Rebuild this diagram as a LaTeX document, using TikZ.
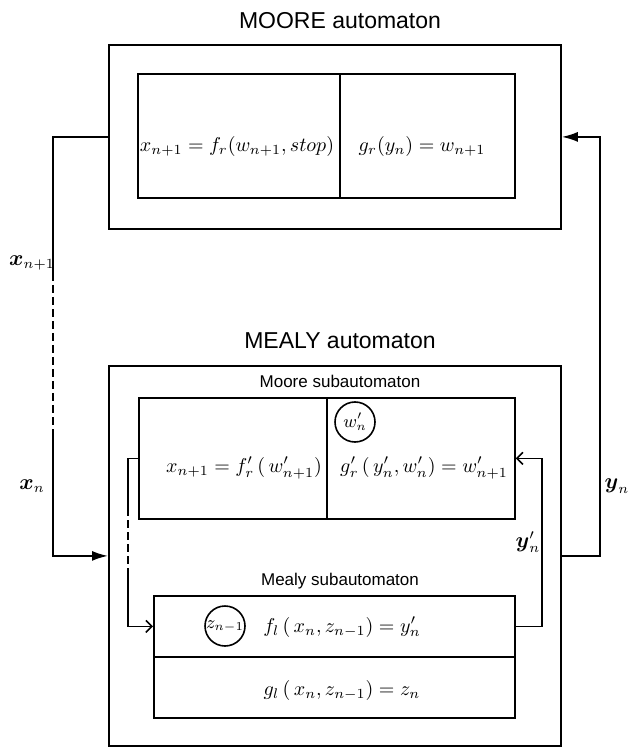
\documentclass[tikz,border=0pt]{standalone}
\usepackage{amsmath}
\usepackage{fontspec}
\setmainfont{Liberation Sans}
\usetikzlibrary{arrows.meta}
\tikzset{
  box/.style={draw, line width=0.9pt, inner sep=0pt, anchor=north west},
  ttl/.style={font=\fontsize{11.5}{13}\selectfont, inner sep=0pt},
  subttl/.style={font=\fontsize{8.5}{10}\selectfont, inner sep=0pt},
  frm/.style={font=\fontsize{10}{12}\selectfont, inner sep=0pt},
  lbl/.style={font=\fontsize{10.5}{12}\selectfont, inner sep=0pt},
  circ/.style={draw, circle, minimum size=20pt, inner sep=0pt, line width=0.8pt, font=\fontsize{9}{11}\selectfont},
  conn/.style={line width=0.9pt},
  thinconn/.style={line width=0.8pt},
  dsh/.style={dash pattern=on 4pt off 2pt},
  bigtip/.style={-{Latex[length=8pt,width=5pt]}},
  smalltip/.style={-{Straight Barb[length=3pt,width=6pt]}}
}
\begin{document}
\begin{tikzpicture}[x=0.5pt,y=-0.5pt]
\useasboundingbox (0,0) rectangle (635,747);

% MOORE automaton
\node[ttl] (t1) at (340,21) {MOORE automaton};
\node[box, minimum width=226pt, minimum height=92pt] (mooreOut) at (108,44) {};
\node[box, minimum width=101pt, minimum height=62pt] (mooreL) at (137,73) {};
\node[box, minimum width=87.5pt, minimum height=62pt] (mooreR) at (339,73) {};
\node[frm] (f1) at (237,147) {$x_{n+1}=f_r(w_{n+1},stop)$};
\node[frm] (f2) at (422,147) {$g_r(y_n)=w_{n+1}$};

% MEALY automaton
\node[ttl] (t2) at (340,341) {MEALY automaton};
\node[box, minimum width=226pt, minimum height=190pt] (mealyOut) at (108,365) {};
\node[subttl] (s1) at (340,381) {Moore subautomaton};
\node[box, minimum width=94pt, minimum height=60.5pt] (msL) at (138,397) {};
\node[box, minimum width=94pt, minimum height=60.5pt] (msR) at (326,397) {};
\node[frm] (f3) at (244,468) {$x_{n+1}=f'_r\,(\,w'_{n+1})$};
\node[frm] (f4) at (424,468) {$g'_r\,(\,y'_n,w'_n)=w'_{n+1}$};
\node[circ] (cw) at (355,422) {$w'_n$};

\node[subttl] (s2) at (340,581) {Mealy subautomaton};
\node[box, minimum width=180.5pt, minimum height=30.5pt] (lsT) at (153,595) {};
\node[box, minimum width=180.5pt, minimum height=30.5pt] (lsB) at (153,656) {};
\node[circ] (cz) at (225,626) {$z_{n-1}$};
\node[frm] (f5) at (342,627) {$f_l\,(\,x_n,z_{n-1})=y'_n$};
\node[frm] (f6) at (342,690) {$g_l\,(\,x_n,z_{n-1})=z_n$};

% labels
\node[lbl] (lx1) at (32,263) {$\boldsymbol{x}_{n+1}$};
\node[lbl] (lx0) at (32,486) {$\boldsymbol{x}_{n}$};
\node[lbl] (ly0) at (617,486) {$\boldsymbol{y}_{n}$};
\node[lbl] (ly1) at (528,542) {$\boldsymbol{y}'_{n}$};

% outer left connector
\coordinate (L) at (53,0);
\coordinate (d1) at (53,273);
\coordinate (d2) at (53,433);
\draw[conn] (mooreOut.west) -- (mooreOut.west -| L) -- (d1);
\draw[conn,dsh] (d1) -- (d2);
\draw[conn,bigtip] (d2) -- (mealyOut.west -| L) -- (mealyOut.west);

% outer right connector
\coordinate (R) at (600,0);
\draw[conn,bigtip] (mealyOut.east) -- (mealyOut.east -| R) -- (mooreOut.east -| R) -- (mooreOut.east);

% inner left connector
\coordinate (IL) at (128,0);
\coordinate (e1) at (128,508);
\coordinate (e2) at (128,573);
\draw[thinconn] (msL.west) -- (msL.west -| IL) -- (e1);
\draw[thinconn,dsh] (e1) -- (e2);
\draw[thinconn,smalltip] (e2) -- (lsT.west -| IL) -- (lsT.west);

% inner right connector
\coordinate (IR) at (542,0);
\draw[thinconn,smalltip] (lsT.east) -- (lsT.east -| IR) -- (msR.east -| IR) -- (msR.east);
\end{tikzpicture}
\end{document}
